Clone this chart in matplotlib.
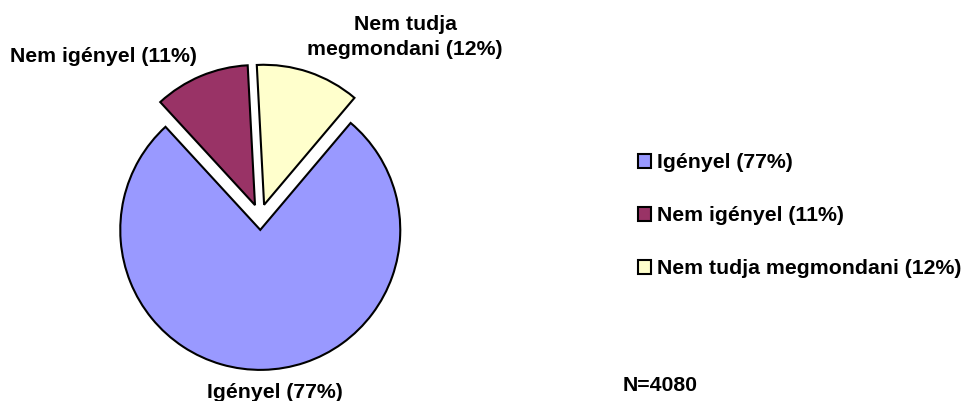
import matplotlib
matplotlib.use("Agg")
import matplotlib.pyplot as plt
from matplotlib.patches import Rectangle

categories = ["Igényel (77%)", "Nem igényel (11%)", "Nem tudja megmondani (12%)"]
values = [77, 11, 12]
colors = ["#9999FF", "#993366", "#FFFFCC"]
slice_labels = ["Igényel (77%)", "Nem igényel (11%)", "Nem tudja\nmegmondani (12%)"]
note = "N=4080"

plt.rcParams['font.family'] = ['Liberation Sans', 'DejaVu Sans']
W, H = 964, 401
fig = plt.figure(figsize=(W / 100, H / 100), dpi=100)


def fx(px):
    return px / W


def fy(py):
    return 1 - py / H


R = 140  # pixel radius
cx, cy = 260, 217
lim = 1.2
size = 2 * lim * R
ax = fig.add_axes([fx(cx - size / 2), fy(cy + size / 2), size / W, size / H])

wedges, _ = ax.pie(values, colors=colors, startangle=93 - 360 * values[2] / 100,
                   counterclock=False, explode=[0.092, 0.092, 0.092],
                   wedgeprops=dict(edgecolor="black", linewidth=1.5))
ax.set_xlim(-lim, lim)
ax.set_ylim(-lim, lim)
ax.set_aspect("equal")
ax.axis("off")

fs = 15.3
bold = dict(fontsize=fs, fontweight="bold", va="baseline")
# slice labels
fig.text(fx(10), fy(62), slice_labels[1], ha="left", **bold)
top_lines = slice_labels[2].split("\n")
fig.text(fx(406), fy(30), top_lines[0], ha="center", **bold)
fig.text(fx(405), fy(55), top_lines[1], ha="center", **bold)
fig.text(fx(207), fy(398), slice_labels[0], ha="left", **bold)
fig.text(fx(623), fy(391), note, ha="left", **bold)

# legend
base0, step = 168, 53
for i, (lab, col) in enumerate(zip(categories, colors)):
    b = base0 + step * i
    fig.patches.append(Rectangle((fx(637.5), fy(b - 0.5)), 13.5 / W, 13.5 / H,
                                 transform=fig.transFigure, facecolor=col,
                                 edgecolor="black", linewidth=1.5))
    fig.text(fx(657), fy(b), lab, ha="left", **bold)

fig.savefig("out.png", dpi=100)
